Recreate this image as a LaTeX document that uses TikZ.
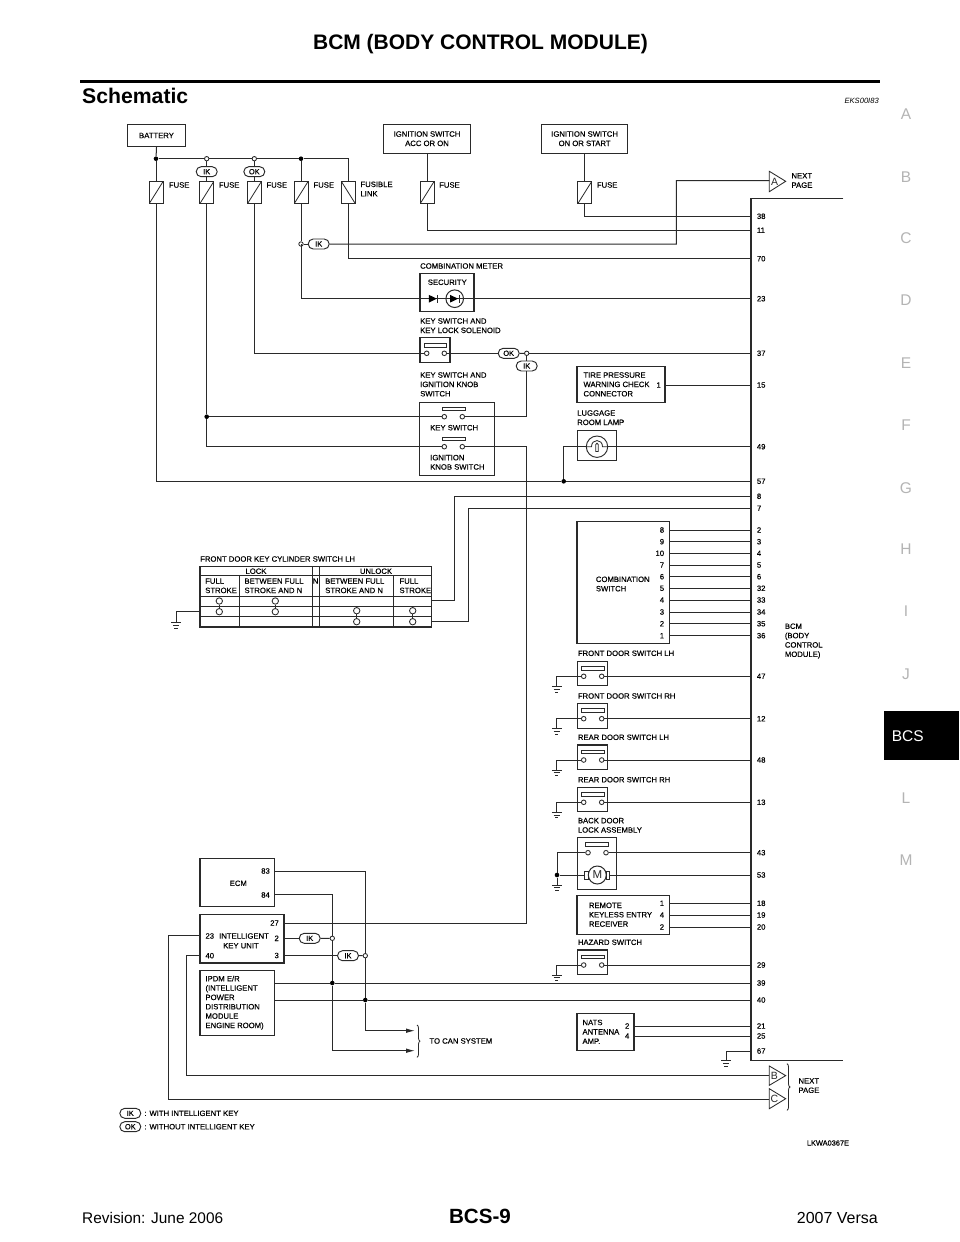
\documentclass[tikz,border=0pt]{standalone}
\usepackage{fontspec}
\setmainfont{Liberation Sans}
\newfontfamily\dgmfont[FakeBold=0.35]{Liberation Sans}
\usetikzlibrary{arrows.meta,shapes.misc,decorations.pathreplacing}
\definecolor{ink}{HTML}{2A2A2A}
\definecolor{tabgray}{HTML}{B4B4B4}
\newcommand{\dgm}{\dgmfont\fontsize{7.7}{9.35}\selectfont}
\tikzset{
  wire/.style={draw=ink,line width=1pt},
  frame/.style={draw=ink,line width=1.05pt,rectangle,inner sep=0pt,align=center,font=\dgm,text=black},
  lbl/.style={anchor=west,inner sep=0pt,font=\dgm,align=left,text=black},
  lblr/.style={anchor=east,inner sep=0pt,font=\dgm,text=black},
  lblc/.style={anchor=center,inner sep=0pt,font=\dgm,text=black},
  fuse/.style={draw=ink,line width=0.95pt,rectangle,minimum width=14pt,minimum height=22.3pt,inner sep=0pt,
    path picture={\draw[ink,line width=0.8pt] (path picture bounding box.south west)--(path picture bounding box.north east);}},
  xfuse/.style={fuse,
    path picture={\draw[ink,line width=0.8pt] (path picture bounding box.south east)--(path picture bounding box.north west);}},
  term/.style={draw=ink,line width=0.85pt,circle,fill=white,inner sep=0pt,minimum size=4.6pt},
  bigterm/.style={term,minimum size=6.4pt},
  ojunc/.style={term,minimum size=4.4pt},
  dot/.style={circle,fill=black,inner sep=0pt,minimum size=4.6pt},
  pill/.style={draw=ink,line width=0.95pt,rounded rectangle,minimum width=21pt,minimum height=10pt,inner sep=0pt,font=\dgmfont\fontsize{7.4}{8}\selectfont,fill=white,text=black},
  swbar/.style={draw=ink,line width=0.85pt,rectangle,minimum width=23pt,minimum height=3.9pt,inner sep=0pt},
  swframe/.style={frame,minimum width=30pt,minimum height=24.5pt},
  flag/.style={draw=ink,line width=0.85pt},
  flagtext/.style={inner sep=0pt,font=\fontsize{10.5}{11}\selectfont,text=ink},
  tabletter/.style={inner sep=0pt,font=\fontsize{15.5}{16}\selectfont,text=tabgray},
  gnd/.pic={\draw[ink,line width=0.85pt] (-4.8,0)--(4.8,0) (-3.2,2.7)--(3.2,2.7) (-1.6,5.4)--(1.6,5.4);},
  hb/.style={draw=ink,line width=0.8pt,decorate,decoration={brace,amplitude=3pt}},
  tablerule/.style={draw=ink,line width=0.95pt},
}
\newcommand{\doorsw}[3]{%
  \node[swframe] (#1) at (#2+15,#3+12.25) {};
  \node[swbar] (#1bar) at (#2+15,#3+6.9) {};
  \node[term] (#1a) at (#2+6,#3+15) {};
  \node[term] (#1b) at (#2+24,#3+15) {};
}
\begin{document}
\begin{tikzpicture}[x=1pt,y=-1pt]
\useasboundingbox (0,0) rectangle (960,1242);
\fill[white] (0,0) rectangle (960,1242);

% page furniture
\node[inner sep=0pt,font=\bfseries\fontsize{21}{24}\selectfont] (pagetitle) at (480.5,44) {BCM (BODY CONTROL MODULE)};
\draw[black,line width=2.5pt] (80,81.5)--(879.5,81.5);
\node[anchor=base west,inner sep=0pt,font=\bfseries\fontsize{21.2}{24}\selectfont] (section) at (82,103) {Schematic};
\node[anchor=base east,inner sep=0pt,font=\itshape\fontsize{7.6}{9}\selectfont] (code) at (879,103) {EKS00I83};
\foreach \t/\y in {A/114,B/177,C/238,D/300,E/363,F/425,G/488,H/549,I/611,J/674,L/798,M/860}
  \node[tabletter] (tab\t) at (906,\y) {\t};
\fill[black] (884.3,710.7) rectangle (958.7,760.3);
\node[anchor=west,inner sep=0pt,font=\fontsize{15.5}{16}\selectfont,text=white] (tabBCS) at (891.7,736) {BCS};
\node[anchor=base west,inner sep=0pt,font=\fontsize{15.4}{18}\selectfont] (rev) at (82,1223) {Revision: June 2006};
\node[anchor=base,inner sep=0pt,font=\bfseries\fontsize{20.6}{24}\selectfont] (pageno) at (480,1223) {BCS-9};
\node[anchor=base east,inner sep=0pt,font=\fontsize{16}{18}\selectfont] (model) at (878,1223) {2007 Versa};

% BCM frame and pins
\draw[draw=ink,line width=1.2pt] (843.3,198.7)--(751,198.7)--(751,1060.7)--(843.3,1060.7);
\foreach \n/\y in {38/216.3,11/230.3,70/258.7,23/298.7,37/353.3,15/385,49/446.7,57/481.3,8/496.3,7/508.3,2/530,3/541.7,4/553.3,5/565,6/576.7,32/588.3,33/600,34/612,35/623.7,36/635.7,47/676.3,12/718.7,48/760,13/802.3,43/852.7,53/875,18/903.3,19/915,20/927,29/965,39/983,40/1000,21/1026,25/1036,67/1051}{
  \coordinate (p\n) at (751,\y);
  \node[lbl] (lb\n) at (756.7,\y) {\n};
}
\node[lbl] (bcmtext) at (784.7,641) {BCM\\(BODY\\CONTROL\\MODULE)};

% sources
\node[frame,minimum width=58.4pt,minimum height=22.4pt] (bat) at (156.5,135.5) {BATTERY};
\node[frame,minimum width=86.6pt,minimum height=28.7pt] (ign1) at (427,138.7) {IGNITION SWITCH\\ACC OR ON};
\node[frame,minimum width=86.7pt,minimum height=28.7pt] (ign2) at (584.6,138.7) {IGNITION SWITCH\\ON OR START};

% fuses
\node[fuse] (f1) at (156,192.8) {};
\node[fuse] (f2) at (206.7,192.8) {};
\node[fuse] (f3) at (254.3,192.8) {};
\node[fuse] (f4) at (301,192.8) {};
\node[xfuse] (f5) at (348.5,192.8) {};
\node[fuse] (f6) at (427,192.8) {};
\node[fuse] (f7) at (584.6,192.8) {};
\node[lbl] (ft1) at (168.7,185) {FUSE};
\node[lbl] (ft2) at (218.7,185) {FUSE};
\node[lbl] (ft3) at (266.3,185) {FUSE};
\node[lbl] (ft4) at (313.3,185) {FUSE};
\node[lbl] (ft5) at (360.3,189) {FUSIBLE\\LINK};
\node[lbl] (ft6) at (439,185) {FUSE};
\node[lbl] (ft7) at (596.7,185) {FUSE};

% bus
\node[dot] (j1) at (156,158.7) {};
\node[ojunc] (j2) at (206.7,158.7) {};
\node[ojunc] (j3) at (254.3,158.7) {};
\node[dot] (j4) at (301,158.7) {};
\node[pill] (ik1) at (206.7,171.7) {IK};
\node[pill] (ok1) at (254.3,171.7) {OK};
\draw[wire] (bat.south)--(j1);
\draw[wire] (j1)--(j2);
\draw[wire] (j2)--(j3);
\draw[wire] (j3)--(j4);
\draw[wire] (j4)-|(f5.north);
\draw[wire] (j1)--(f1.north);
\draw[wire] (j2)--(ik1.north);
\draw[wire] (ik1.south)--(f2.north);
\draw[wire] (j3)--(ok1.north);
\draw[wire] (ok1.south)--(f3.north);
\draw[wire] (j4)--(f4.north);
\draw[wire] (ign1.south)--(f6.north);
\draw[wire] (ign2.south)--(f7.north);
\draw[wire] (f6.south)|-(p11);
\draw[wire] (f7.south)|-(p38);
\draw[wire] (f5.south)|-(p70);

% IK tap and flag A
\node[ojunc] (j5) at (301,244) {};
\node[pill] (ik2) at (318.7,244) {IK};
\coordinate (bendA) at (676.3,244);
\coordinate (flagA) at (769.3,180.7);
\draw[wire] (f4.south)--(j5);
\draw[wire] (j5)--(ik2);
\draw[wire] (ik2)--(bendA)|-(flagA);
\draw[flag] (769.3,171.3)--(785.7,181.3)--(769.3,191.7)--cycle;
\node[flagtext] (letA) at (774.6,181.5) {A};
\node[lbl] (nextA) at (791.3,180.5) {NEXT\\PAGE};

% combination meter
\node[lbl] (cmt) at (420,266) {COMBINATION METER};
\node[frame,minimum width=54pt,minimum height=38.3pt] (cm) at (447,292.8) {};
\node[lblc] (sec) at (447.3,282.3) {SECURITY};
\draw[wire] (f4.south |- j5)--(f4.south |- p23)--(p23);
\fill[black] (428.8,294.8)--(436.8,298.7)--(428.8,302.6)--cycle;
\draw[ink,line width=0.85pt] (437.8,294.8)--(437.8,302.6);
\node[draw=ink,line width=1pt,circle,inner sep=0pt,minimum size=17.6pt] (sled) at (454.7,298.7) {};
\fill[black] (450,294.8)--(458,298.7)--(450,302.6)--cycle;
\draw[ink,line width=0.85pt] (459,294.8)--(459,302.6);

% key switch and key lock solenoid
\node[lbl] (kslt) at (420,325.7) {KEY SWITCH AND\\KEY LOCK SOLENOID};
\node[frame,minimum width=30pt,minimum height=24.7pt] (ksl) at (435,350.3) {};
\node[swbar,minimum width=22pt,minimum height=3.7pt] (kslbar) at (435.3,345.2) {};
\node[term] (ksla) at (426.7,353.3) {};
\node[term] (kslb) at (444.3,353.3) {};
\node[pill] (ok2) at (508.7,353.3) {OK};
\node[ojunc] (j6) at (526.7,353.3) {};
\node[pill] (ik3) at (526.7,366) {IK};
\draw[wire] (f3.south)|-(ksla);
\draw[wire] (kslb)--(ok2);
\draw[wire] (ok2)--(j6);
\draw[wire] (j6)--(p37);
\draw[wire] (j6)--(ik3.north);

% key switch and ignition knob switch
\node[lbl] (ksit) at (420,384.4) {KEY SWITCH AND\\IGNITION KNOB\\SWITCH};
\node[frame,minimum width=74.7pt,minimum height=73.3pt] (ksi) at (457.3,438.7) {};
\node[swbar] (kb1) at (453.8,408.9) {};
\node[term] (ksa) at (444.3,416.7) {};
\node[term] (ksb) at (462.3,416.7) {};
\node[lbl] (kst) at (430,427.7) {KEY SWITCH};
\node[swbar] (kb2) at (453.8,438.9) {};
\node[term] (kna) at (444.3,446.7) {};
\node[term] (knb) at (462.3,446.7) {};
\node[lbl] (knt) at (430,462.3) {IGNITION\\KNOB SWITCH};
\node[dot] (j7) at (206.7,416.7) {};
\draw[wire] (f2.south)--(j7);
\draw[wire] (j7)--(ksa);
\draw[wire] (j7)|-(kna);
\draw[wire] (ik3.south)|-(ksb);

% tire pressure
\node[frame,minimum width=88pt,minimum height=36.4pt] (tp) at (621,384.5) {};
\node[lbl] (tpt) at (583.3,384.4) {TIRE PRESSURE\\WARNING CHECK\\CONNECTOR};
\node[lblr] (tp1) at (661,385) {1};
\draw[wire] (tp.east |- p15)--(p15);

% luggage room lamp
\node[lbl] (llt) at (577,417.7) {LUGGAGE\\ROOM LAMP};
\node[frame,minimum width=39.4pt,minimum height=30pt] (ll) at (597,445.7) {};
\node[draw=ink,line width=0.95pt,circle,inner sep=0pt,minimum size=21.4pt] (lamp) at (597,446.7) {};
\node[dot] (j8) at (563.7,481.3) {};
\draw[wire] (f1.south)|-(j8);
\draw[wire] (j8)--(p57);
\draw[wire] (j8)|-(lamp.west);
\draw[wire] (lamp.east)--(p49);
\draw[ink,line width=0.85pt] (587,446.7)--(591.5,446.7) .. controls (591.5,438.5) and (602.5,438.5) .. (602.5,446.7)--(607,446.7);
\draw[ink,line width=0.85pt] (595.7,451.5)--(595.7,444.5) arc[start angle=180,end angle=0,x radius=1.3,y radius=-1.3]--(598.3,451.5)--cycle;

% front door key cylinder switch
\node[lbl] (kct) at (200,559) {FRONT DOOR KEY CYLINDER SWITCH LH};
\node[frame,minimum width=231.7pt,minimum height=60.3pt] (kc) at (315.85,596.85) {};
\draw[tablerule] (200,575.7)--(431.7,575.7) (200,596)--(431.7,596) (200,606.3)--(431.7,606.3) (200,616.7)--(431.7,616.7);
\draw[tablerule] (239,575.7)--(239,627) (393.7,575.7)--(393.7,627) (312.3,566.7)--(312.3,627) (319.3,566.7)--(319.3,627);
\node[lblc] (kcl) at (256,571.2) {LOCK};
\node[lblc] (kcu) at (376,571.2) {UNLOCK};
\node[lbl] (kc1) at (205,585.8) {FULL\\STROKE};
\node[lbl] (kc2) at (244.3,585.8) {BETWEEN FULL\\STROKE AND N};
\node[lblc] (kcn) at (315.6,581) {N};
\node[lbl] (kc3) at (325,585.8) {BETWEEN FULL\\STROKE AND N};
\node[lbl] (kc4) at (399.3,585.8) {FULL\\STROKE};
\foreach \n/\x/\ya/\yb in {a/219.3/601/611.7,b/275.3/601/611.7,c/356.7/610.7/621.7,d/412.7/610.7/621.7}{
  \node[bigterm] (cyl\n1) at (\x,\ya) {};
  \node[bigterm] (cyl\n2) at (\x,\yb) {};
  \draw[wire] (cyl\n1)--(cyl\n2);
}
\coordinate (kcout8) at (431.7,600.5);
\coordinate (kcout7) at (431.7,621);
\coordinate (kcgnd) at (200,611);
\coordinate (gkc) at (176,622.7);
\coordinate (bend8) at (454.3,496.3);
\coordinate (bend7) at (468.7,508.3);
\draw[wire] (kcout8)-|(bend8)--(p8);
\draw[wire] (kcout7)-|(bend7)--(p7);
\draw[wire] (kcgnd)-|(gkc);
\pic at (gkc) {gnd};

% combination switch
\node[frame,minimum width=92.3pt,minimum height=121.6pt] (cs) at (623.15,582.5) {};
\node[lbl] (cst) at (595.7,584) {COMBINATION\\SWITCH};
\foreach \a/\b/\y in {8/2/530,9/3/541.7,10/4/553.3,7/5/565,6/6/576.7,5/32/588.3,4/33/600,3/34/612,2/35/623.7,1/36/635.7}{
  \node[lblr] (csl\a) at (664.3,\y) {\a};
  \coordinate (csp\a) at (669.3,\y);
  \draw[wire] (csp\a)--(p\b);
}

% door switches
\node[lbl] (dflt) at (577.7,653.3) {FRONT DOOR SWITCH LH};
\doorsw{dfl}{577.7}{661.3}
\node[lbl] (dfrt) at (577.7,696) {FRONT DOOR SWITCH RH};
\doorsw{dfr}{577.7}{703.7}
\node[lbl] (drlt) at (577.7,737.3) {REAR DOOR SWITCH LH};
\doorsw{drl}{577.7}{745}
\node[lbl] (drrt) at (577.7,779.7) {REAR DOOR SWITCH RH};
\doorsw{drr}{577.7}{787.3}
\node[lbl] (hzt) at (577.7,942.3) {HAZARD SWITCH};
\doorsw{hz}{577.7}{950}
\foreach \s/\p/\g in {dfl/47/686.7,dfr/12/728.7,drl/48/770,drr/13/812.3,hz/29/975}{
  \draw[wire] (\s b)--(p\p);
  \coordinate (gnd\s) at (556.7,\g);
  \draw[wire] (\s a)-|(gnd\s);
  \pic at (gnd\s) {gnd};
}

% back door lock assembly
\node[lbl] (bdt) at (577.7,825.3) {BACK DOOR\\LOCK ASSEMBLY};
\node[frame,minimum width=38.6pt,minimum height=52.4pt] (bd) at (597,863.5) {};
\node[swbar] (bdbar) at (597.3,844.5) {};
\node[term] (bda) at (588,852.7) {};
\node[term] (bdb) at (606,852.7) {};
\node[draw=ink,line width=1pt,circle,inner sep=0pt,minimum size=18pt,font=\fontsize{11.5}{12}\selectfont,text=ink] (motor) at (597.3,875) {M};
\node[draw=ink,line width=0.85pt,rectangle,minimum width=3.6pt,minimum height=8pt,inner sep=0pt] (brl) at (586.5,875) {};
\node[draw=ink,line width=0.85pt,rectangle,minimum width=3.6pt,minimum height=8pt,inner sep=0pt] (brr) at (608,875) {};
\node[dot] (j9) at (557,875) {};
\coordinate (gbd) at (557,885);
\draw[wire] (bda)-|(j9);
\draw[wire] (j9)--(brl);
\draw[wire] (j9)--(gbd);
\pic at (gbd) {gnd};
\draw[wire] (bdb)--(p43);
\draw[wire] (brr)--(p53);

% remote keyless entry receiver
\node[frame,minimum width=92.7pt,minimum height=39pt] (rk) at (623.35,914.8) {};
\node[lbl] (rkt) at (588.7,914.7) {REMOTE\\KEYLESS ENTRY\\RECEIVER};
\foreach \a/\b/\y in {1/18/903.3,4/19/915,2/20/927}{
  \node[lblr] (rkl\a) at (664.3,\y) {\a};
  \coordinate (rkp\a) at (669.7,\y);
  \draw[wire] (rkp\a)--(p\b);
}

% ECM
\node[frame,minimum width=74.7pt,minimum height=47.6pt] (ecm) at (237.35,882.5) {};
\node[lblc] (ecmt) at (238.3,883.3) {ECM};
\node[lblr] (e83) at (270,871) {83};
\node[lblr] (e84) at (270,895) {84};
\coordinate (ep83) at (274.7,871.7);
\coordinate (ep84) at (274.7,894.7);

% intelligent key unit
\node[frame,minimum width=84pt,minimum height=48.3pt] (iku) at (242,938.85) {};
\node[lblr] (i27) at (279,923) {27};
\node[lbl] (i23) at (205.3,936) {23};
\node[lbl] (iktxt) at (219,936) {INTELLIGENT};
\node[lbl] (iktxt2) at (223,945.7) {KEY UNIT};
\node[lblr] (i2) at (279,938.3) {2};
\node[lblr] (i3) at (279,955.5) {3};
\node[lbl] (i40) at (205.3,955.7) {40};
\coordinate (ip27) at (284,923);
\coordinate (ip2) at (284,938.3);
\coordinate (ip3) at (284,955.7);
\coordinate (ip23) at (200,935.7);
\coordinate (ip40) at (200,955.7);
\node[pill] (ik4) at (309.7,938.3) {IK};
\node[pill] (ik5) at (348,955.7) {IK};
\node[ojunc] (j10) at (332.3,938.3) {};
\node[ojunc] (j11) at (365.3,955.7) {};
\draw[wire] (ip2)--(ik4);
\draw[wire] (ik4)--(j10);
\draw[wire] (ip3)--(ik5);
\draw[wire] (ik5)--(j11);

% IPDM E/R
\node[frame,minimum width=74.7pt,minimum height=64.6pt] (ipdm) at (237.35,1003) {};
\node[lbl] (ipt) at (205.3,1002.7) {IPDM E/R\\(INTELLIGENT\\POWER\\DISTRIBUTION\\MODULE\\ENGINE ROOM)};
\coordinate (ipa) at (274.7,983);
\coordinate (ipb) at (274.7,1000);
\node[dot] (j12) at (332.3,983) {};
\node[dot] (j13) at (365.3,1000) {};
\draw[wire] (ipa)--(j12);
\draw[wire] (j12)--(p39);
\draw[wire] (ipb)--(j13);
\draw[wire] (j13)--(p40);

% CAN lines
\coordinate (can1) at (415,1030.7);
\coordinate (can2) at (415,1050.7);
\coordinate (bend83) at (365.3,871.7);
\coordinate (bend84) at (332.3,894.7);
\coordinate (bendc1) at (365.3,1030.7);
\coordinate (bendc2) at (332.3,1050.7);
\draw[wire] (ep83)--(bend83)--(j11);
\draw[wire] (j11)--(j13);
\draw[wire,-{Latex[length=9pt,width=4.6pt]}] (j13)--(bendc1)--(can1);
\draw[wire] (ep84)--(bend84)--(j10);
\draw[wire] (j10)--(j12);
\draw[wire,-{Latex[length=9pt,width=4.6pt]}] (j12)--(bendc2)--(can2);
\draw[hb] (417,1025)--(417,1057.3);
\node[lbl] (cant) at (429.3,1041) {TO CAN SYSTEM};

% long returns
\coordinate (bend27a) at (526.7,923);
\draw[wire] (knb)-|(bend27a)--(ip27);
\coordinate (flagB) at (769.3,1075.3);
\coordinate (flagC) at (769.3,1099.3);
\coordinate (bend40) at (186,955.7);
\coordinate (bend23) at (168,935.7);
\draw[wire] (ip40)--(bend40)|-(flagB);
\draw[wire] (ip23)--(bend23)|-(flagC);
\draw[flag] (769.3,1066)--(785.7,1075.6)--(769.3,1085.3)--cycle;
\node[flagtext] (letB) at (774.4,1075.6) {B};
\draw[flag] (769.3,1088.7)--(785.7,1098.7)--(769.3,1108.7)--cycle;
\node[flagtext] (letC) at (774.4,1098.7) {C};
\draw[hb] (787,1063.7)--(787,1110.3);
\node[lbl] (nextBC) at (798.3,1085.6) {NEXT\\PAGE};

% NATS antenna amp
\node[frame,minimum width=57pt,minimum height=37pt] (nats) at (605.5,1031.8) {};
\node[lbl] (natt) at (582.3,1031.8) {NATS\\ANTENNA\\AMP.};
\node[lblr] (n2) at (629.5,1026) {2};
\node[lblr] (n4) at (629.5,1036) {4};
\coordinate (np2) at (634,1026);
\coordinate (np4) at (634,1036);
\draw[wire] (np2)--(p21);
\draw[wire] (np4)--(p25);
\coordinate (g67) at (726,1060.7);
\draw[wire] (p67)-|(g67);
\pic at (g67) {gnd};

% legend
\node[pill] (legik) at (130.3,1113.3) {IK};
\node[lbl] (legikt) at (144.3,1113.3) {: WITH INTELLIGENT KEY};
\node[pill] (legok) at (130.3,1126.7) {OK};
\node[lbl] (legokt) at (144.3,1126.7) {: WITHOUT INTELLIGENT KEY};
\node[anchor=west,inner sep=0pt,font=\dgmfont\fontsize{7.4}{9}\selectfont] (fig) at (806.7,1143) {LKWA0367E};
\end{tikzpicture}
\end{document}
